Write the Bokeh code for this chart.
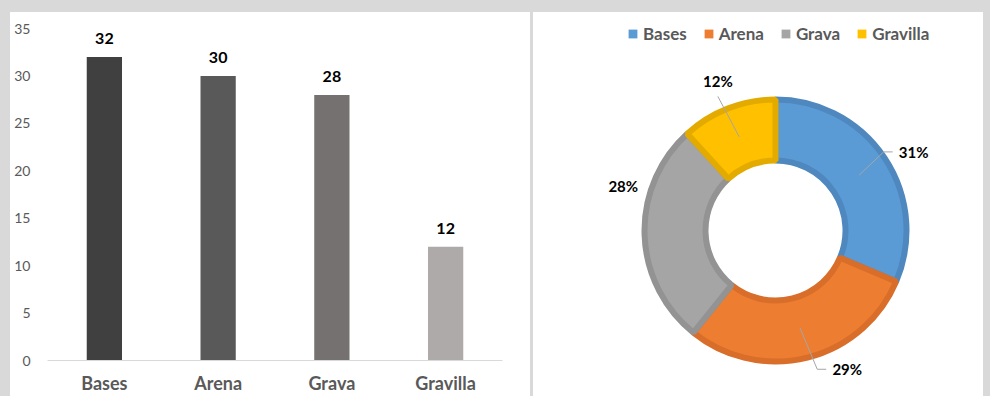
import math
from bokeh.plotting import figure
from bokeh.models import Range1d, FactorRange, Legend, LegendItem, ColumnDataSource
from bokeh.layouts import row
from bokeh.core.properties import value
from bokeh.embed import file_html
from bokeh.resources import INLINE

# ---------------- data ----------------
categories = ["Bases", "Arena", "Grava", "Gravilla"]
amounts = [32, 30, 28, 12]
y_ticks = [0, 5, 10, 15, 20, 25, 30, 35]
pie_pct_labels = ["31%", "29%", "28%", "12%"]

# ---------------- style ----------------
FONT = "Lato"
bar_colors = ["#404040", "#595959", "#767171", "#AEAAAA"]
pie_fill = ["#5B9BD5", "#ED7D31", "#A5A5A5", "#FFC000"]
pie_line = ["#4F88BF", "#D86E2A", "#939393", "#E3AB00"]
label_angles_deg = [29, -63, 164.5, 111.4]
label_radius = 158
leader_kind = ["right", "right", None, "below"]
R_IN, R_OUT = 67, 134

# ---------------- bar chart ----------------
p1 = figure(x_range=FactorRange(factors=categories), y_range=Range1d(0, 35),
            width=520, height=384, output_backend="svg", toolbar_location=None,
            min_border_left=37, min_border_right=28, min_border_top=16, min_border_bottom=36,
            outline_line_color=None, background_fill_color="white", border_fill_color="white",
            margin=(12, 0, 0, 10), frame_align=False, styles={"background-color": "white"})
src = ColumnDataSource(dict(cat=categories, amt=amounts, col=bar_colors,
                            lbl=[str(v) for v in amounts]))
p1.vbar(x="cat", top="amt", width=0.31, fill_color="col", line_color=None, source=src)
p1.text(x="cat", y="amt", text="lbl", source=src, text_align="center", text_baseline="bottom",
        y_offset=-13, text_font=value(FONT), text_font_style="bold", text_font_size="16px",
        text_color="#000000")
p1.xgrid.visible = False
p1.ygrid.visible = False
p1.yaxis.ticker = y_ticks
p1.yaxis.axis_line_color = None
p1.yaxis.major_tick_line_color = None
p1.yaxis.minor_tick_line_color = None
p1.yaxis.major_tick_out = 0
p1.yaxis.major_tick_in = 0
p1.yaxis.major_label_standoff = 17
p1.yaxis.major_label_text_font = FONT
p1.yaxis.major_label_text_font_size = "14px"
p1.yaxis.major_label_text_color = "#595959"
p1.xaxis.axis_line_color = "#D9D9D9"
p1.xaxis.axis_line_width = 1
p1.xaxis.major_tick_line_color = None
p1.xaxis.minor_tick_line_color = None
p1.xaxis.major_tick_out = 0
p1.xaxis.major_tick_in = 0
p1.xaxis.major_label_standoff = 11
p1.xaxis.major_label_text_font = FONT
p1.xaxis.major_label_text_font_style = "bold"
p1.xaxis.major_label_text_font_size = "18px"
p1.xaxis.major_label_text_color = "#595959"

# ---------------- donut ----------------
p2 = figure(x_range=Range1d(-242, 208), y_range=Range1d(-166, 218),
            width=450, height=384, output_backend="svg", toolbar_location=None,
            x_axis_type=None, y_axis_type=None, min_border=0,
            min_border_left=0, min_border_right=0, min_border_top=0, min_border_bottom=0,
            outline_line_color=None, background_fill_color="white", border_fill_color="white",
            margin=(12, 7, 0, 3), frame_align=False, styles={"background-color": "white"})
p2.xgrid.visible = False
p2.ygrid.visible = False

total = sum(amounts)
starts, ends, mids = [], [], []
cum = 0
for v in amounts:
    a0 = math.pi / 2 - 2 * math.pi * cum / total
    cum += v
    a1 = math.pi / 2 - 2 * math.pi * cum / total
    starts.append(a0)
    ends.append(a1)
    mids.append((a0 + a1) / 2)

lw = 6
dsrc = ColumnDataSource(dict(s=starts, e=ends, f=pie_fill, l=pie_line))
p2.annular_wedge(x=0, y=0, inner_radius=R_IN + lw / 2, outer_radius=R_OUT - lw / 2,
                 start_angle="s", end_angle="e", direction="clock",
                 fill_color="f", line_color="l", line_width=lw, source=dsrc)

# labels and leader lines
lx, ly = [], []
xs, ys = [], []
r_mid = (R_IN + R_OUT) / 2
for i in range(len(amounts)):
    a = math.radians(label_angles_deg[i])
    cx, cy = label_radius * math.cos(a), label_radius * math.sin(a)
    lx.append(cx)
    ly.append(cy)
    sx, sy = r_mid * math.cos(mids[i]), r_mid * math.sin(mids[i])
    if leader_kind[i] == "right":
        xs.append([sx, cx - 30, cx - 21])
        ys.append([sy, cy + 2, cy + 2])
    elif leader_kind[i] == "below":
        xs.append([sx, cx])
        ys.append([sy, cy - 13])
p2.multi_line(xs=xs, ys=ys, line_color="#A6A6A6", line_width=1)
p2.text(x=lx, y=ly, text=pie_pct_labels, text_align="center", text_baseline="middle",
        y_offset=-2, text_font=value(FONT), text_font_style="bold", text_font_size="15px",
        text_color="#000000")

nan = float("nan")
items = []
for name, col in zip(categories, pie_fill):
    r = p2.quad(left=[nan], right=[nan], top=[nan], bottom=[nan], fill_color=col, line_color=None)
    items.append(LegendItem(label=name, renderers=[r]))
legend = Legend(items=items, orientation="horizontal", location=(94, 352),
                glyph_width=11, glyph_height=11, label_standoff=5, spacing=16,
                padding=0, margin=0, border_line_color=None, background_fill_alpha=0,
                label_text_font=FONT, label_text_font_style="bold", label_text_font_size="17px",
                label_text_color="#595959", label_height=16)
p2.add_layout(legend)

layout = row(p1, p2, styles={"background-color": "#D9D9D9"})
open("out.html", "w").write(file_html(layout, INLINE))
